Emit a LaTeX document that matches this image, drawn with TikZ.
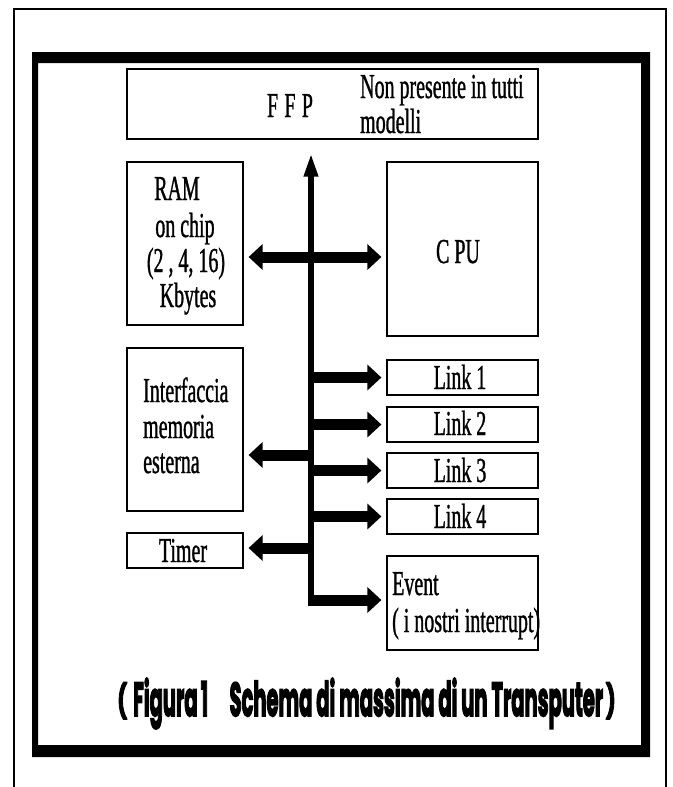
\documentclass[tikz,border=0pt]{standalone}
\usepackage{fontspec}
\setmainfont{Liberation Serif}[FakeStretch=0.57, FakeBold=0.9]
\newfontfamily\capfont{Poppins}[FakeBold=4]
\usetikzlibrary{arrows.meta}
\tikzset{
  box/.style={draw, line width=1.2pt, inner sep=0pt, fill=white},
  txt/.style={inner sep=0pt, font=\fontsize{35}{36}\selectfont},
  captxt/.style={inner sep=0pt, font=\capfont\bfseries},
  busline/.style={line width=6pt, -{Triangle[length=24pt,width=13pt]}, shorten >=13pt},
  harrow/.style={line width=11pt, -{Triangle[length=14pt,width=25pt]}, shorten >=5pt},
  darrow/.style={line width=11pt, {Triangle[length=14pt,width=25pt]}-{Triangle[length=14pt,width=25pt]}, shorten >=5pt, shorten <=5pt}
}
\begin{document}
\begin{tikzpicture}[x=1pt,y=-1pt]
\useasboundingbox (0,0) rectangle (672,787);
% frames
\draw[line width=1.5pt] (14,787) -- (14,9) -- (666,9) -- (666,787);
\fill[even odd rule] (32,52) rectangle (650,757) (38,63) rectangle (641,745);
% boxes
\node[box, minimum width=411pt, minimum height=70pt] (ffp) at (332.5,104) {};
\node[box, minimum width=116pt, minimum height=163pt] (ram) at (185,243.5) {};
\node[box, minimum width=151pt, minimum height=174pt] (cpu) at (462.5,249) {};
\node[box, minimum width=116pt, minimum height=163pt] (intf) at (185,429.5) {};
\node[box, minimum width=151pt, minimum height=35pt] (link1) at (462.5,377.5) {};
\node[box, minimum width=151pt, minimum height=35pt] (link2) at (462.5,424.5) {};
\node[box, minimum width=151pt, minimum height=35pt] (link3) at (462.5,470.5) {};
\node[box, minimum width=151pt, minimum height=35pt] (link4) at (462.5,516.5) {};
\node[box, minimum width=116pt, minimum height=35pt] (timer) at (185,550.5) {};
\node[box, minimum width=151pt, minimum height=94pt] (event) at (462.5,603) {};
% texts
\node[txt, anchor=base] (tffp) at (290,117) {\addfontfeature{LetterSpace=18}FFP};
\node[txt, anchor=base west] (tnon1) at (360,98) {Non presente in tutti};
\node[txt, anchor=base west] (tnon2) at (360,133) {modelli};
\node[txt, anchor=base] (tram1) at (177,200) {RAM};
\node[txt, anchor=base] (tram2) at (185,237) {on chip};
\node[txt, anchor=base] (tram3) at (186,272) {(2 , 4, 16)};
\node[txt, anchor=base] (tram4) at (188,307) {Kbytes};
\node[txt, anchor=base] (tcpu) at (458,263) {C PU};
\node[txt, anchor=base west] (tint1) at (143,402) {Interfaccia};
\node[txt, anchor=base west] (tint2) at (143,438) {memoria};
\node[txt, anchor=base west] (tint3) at (143,473) {esterna};
\node[txt, anchor=base] (tl1) at (460,389) {Link 1};
\node[txt, anchor=base] (tl2) at (460,435) {Link 2};
\node[txt, anchor=base] (tl3) at (460,482) {Link 3};
\node[txt, anchor=base] (tl4) at (460,528) {Link 4};
\node[txt, anchor=base] (ttimer) at (183,562) {Timer};
\node[txt, anchor=base west] (tev1) at (392,595) {Event};
\node[txt, anchor=base west] (tev2) at (392,632) {( i nostri interrupt)};
% caption
\node[captxt, anchor=north west] (capl) at (117,682) {\resizebox*{10pt}{37pt}{(}};
\node[captxt, anchor=base west] (cap) at (133,716)
  {\resizebox{470pt}{38pt}{\spaceskip=0.2em plus 0pt minus 0pt Figura\,1\hspace{1.1em}Schema di massima di un Transputer}};
\node[captxt, anchor=north east] (capr) at (616,682) {\resizebox*{10pt}{37pt}{)}};
% bus and arrows
\coordinate (busbot) at (311,605.5);
\coordinate (evj) at (308,600);
\coordinate (jc) at (311,257);
\coordinate (ji) at (311,455);
\coordinate (jt) at (311,548);
\draw[busline] (busbot) -- (busbot |- ffp.south);
\draw[darrow] (jc -| ram.east) -- (jc -| cpu.west);
\draw[harrow] (link1.west -| jc) -- (link1.west);
\draw[harrow] (link2.west -| jc) -- (link2.west);
\draw[harrow] (link3.west -| jc) -- (link3.west);
\draw[harrow] (link4.west -| jc) -- (link4.west);
\draw[harrow] (ji) -- (ji -| intf.east);
\draw[harrow] (jt) -- (jt -| timer.east);
\draw[harrow] (evj) -- (evj -| event.west);
\end{tikzpicture}
\end{document}
